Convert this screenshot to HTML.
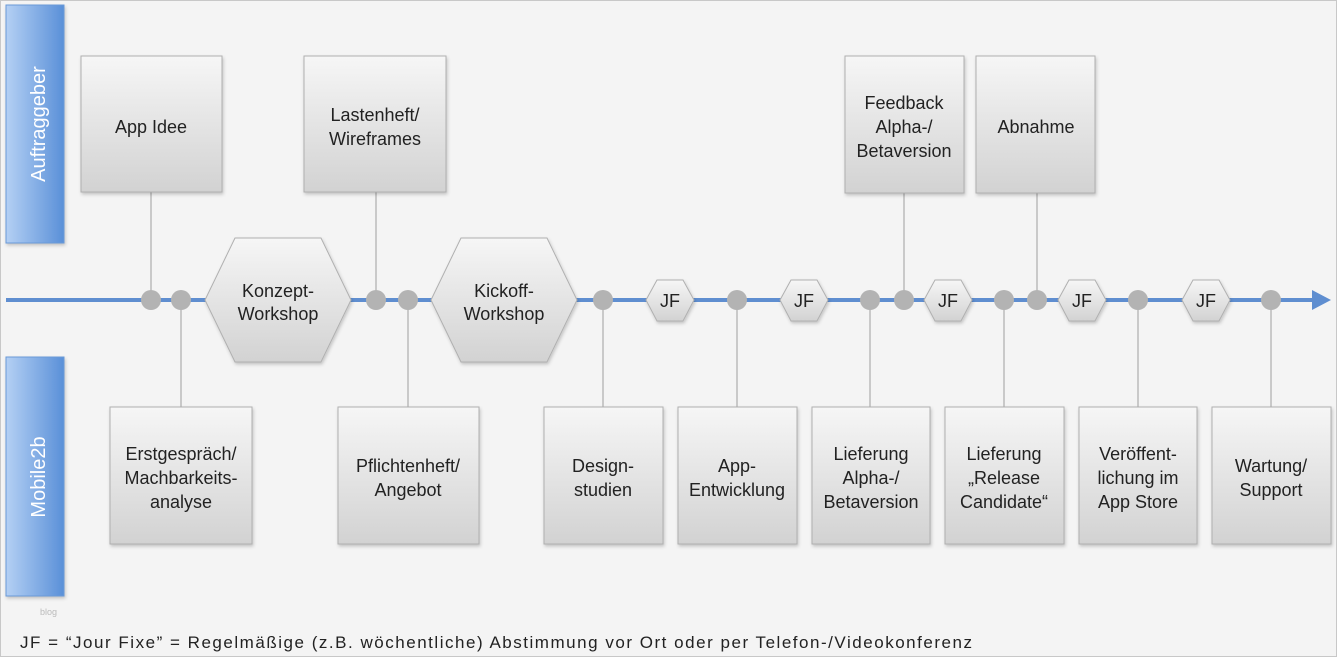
<!DOCTYPE html>
<html><head><meta charset="utf-8"><style>
html,body{margin:0;padding:0;background:#f4f4f4}
svg{display:block}
text{font-family:"Liberation Sans",sans-serif;fill:#222}
</style></head><body>
<svg width="1337" height="657" viewBox="0 0 1337 657" xmlns="http://www.w3.org/2000/svg">
<defs>
<linearGradient id="box" x1="0" y1="0" x2="0" y2="1"><stop offset="0" stop-color="#f6f6f6"/><stop offset="1" stop-color="#d2d2d2"/></linearGradient>
<linearGradient id="lane" x1="0" y1="0" x2="1" y2="0"><stop offset="0" stop-color="#b4d0f4"/><stop offset="1" stop-color="#5a90d8"/></linearGradient>
<filter id="sh" x="-10%" y="-10%" width="130%" height="130%"><feDropShadow dx="1" dy="2" stdDeviation="1.5" flood-color="#000" flood-opacity="0.2"/></filter>
</defs>
<rect x="0.5" y="0.5" width="1336" height="656" fill="#f4f4f4" stroke="#c8c8c8"/>
<rect x="6" y="5" width="58" height="238" fill="url(#lane)" stroke="#6a9ad8" filter="url(#sh)"/>
<rect x="6" y="357" width="58" height="239" fill="url(#lane)" stroke="#6a9ad8" filter="url(#sh)"/>
<text transform="translate(45,124) rotate(-90)" text-anchor="middle" font-size="20" style="fill:#fff">Auftraggeber</text>
<text transform="translate(45,477) rotate(-90)" text-anchor="middle" font-size="20" style="fill:#fff">Mobile2b</text>
<text x="40" y="615" font-size="9" style="fill:#bbb">blog</text>
<g stroke="#bbb" stroke-width="1.5">
<line x1="151" y1="192" x2="151" y2="300"/><line x1="181" y1="300" x2="181" y2="407"/>
<line x1="376" y1="192" x2="376" y2="300"/><line x1="408" y1="300" x2="408" y2="407"/>
<line x1="603" y1="300" x2="603" y2="407"/><line x1="737" y1="300" x2="737" y2="407"/>
<line x1="870" y1="300" x2="870" y2="407"/><line x1="904" y1="193" x2="904" y2="300"/>
<line x1="1004" y1="300" x2="1004" y2="407"/><line x1="1037" y1="193" x2="1037" y2="300"/>
<line x1="1138" y1="300" x2="1138" y2="407"/><line x1="1271" y1="300" x2="1271" y2="407"/>
</g>
<line x1="6" y1="300" x2="1316" y2="300" stroke="#5f8ed0" stroke-width="4"/>
<polygon points="1312,290 1331,300 1312,310" fill="#5f8ed0"/>
<g fill="#b3b3b3">
<circle cx="151" cy="300" r="10"/><circle cx="181" cy="300" r="10"/><circle cx="376" cy="300" r="10"/><circle cx="408" cy="300" r="10"/>
<circle cx="603" cy="300" r="10"/><circle cx="737" cy="300" r="10"/><circle cx="870" cy="300" r="10"/><circle cx="904" cy="300" r="10"/>
<circle cx="1004" cy="300" r="10"/><circle cx="1037" cy="300" r="10"/><circle cx="1138" cy="300" r="10"/><circle cx="1271" cy="300" r="10"/>
</g>
<g fill="url(#box)" stroke="#b0b0b0" filter="url(#sh)">
<rect x="81" y="56" width="141" height="136"/><rect x="304" y="56" width="142" height="136"/>
<rect x="845" y="56" width="119" height="137"/><rect x="976" y="56" width="119" height="137"/>
<rect x="110" y="407" width="142" height="137"/><rect x="338" y="407" width="141" height="137"/>
<rect x="544" y="407" width="119" height="137"/><rect x="678" y="407" width="119" height="137"/>
<rect x="812" y="407" width="118" height="137"/><rect x="945" y="407" width="119" height="137"/>
<rect x="1079" y="407" width="118" height="137"/><rect x="1212" y="407" width="119" height="137"/>
<polygon points="235,238 321,238 351,300 321,362 235,362 205,300"/>
<polygon points="461,238 547,238 577,300 547,362 461,362 431,300"/>
<polygon points="657,280 683,280 694,300 683,321 657,321 646,300"/>
<polygon points="791,280 817,280 828,300 817,321 791,321 780,300"/>
<polygon points="935,280 961,280 972,300 961,321 935,321 924,300"/>
<polygon points="1069,280 1095,280 1106,300 1095,321 1069,321 1058,300"/>
<polygon points="1193,280 1219,280 1230,300 1219,321 1193,321 1182,300"/>
</g>
<g font-size="18" text-anchor="middle">
<text x="151" y="133">App Idee</text>
<text x="375" y="121">Lastenheft/</text><text x="375" y="145">Wireframes</text>
<text x="904" y="109">Feedback</text><text x="904" y="133">Alpha-/</text><text x="904" y="157">Betaversion</text>
<text x="1036" y="133">Abnahme</text>
<text x="278" y="297">Konzept-</text><text x="278" y="320">Workshop</text>
<text x="504" y="297">Kickoff-</text><text x="504" y="320">Workshop</text>
<text x="670" y="307">JF</text><text x="804" y="307">JF</text><text x="948" y="307">JF</text><text x="1082" y="307">JF</text><text x="1206" y="307">JF</text>
<text x="181" y="460">Erstgespräch/</text><text x="181" y="484">Machbarkeits-</text><text x="181" y="508">analyse</text>
<text x="408" y="472">Pflichtenheft/</text><text x="408" y="496">Angebot</text>
<text x="603" y="472">Design-</text><text x="603" y="496">studien</text>
<text x="737" y="472">App-</text><text x="737" y="496">Entwicklung</text>
<text x="871" y="460">Lieferung</text><text x="871" y="484">Alpha-/</text><text x="871" y="508">Betaversion</text>
<text x="1004" y="460">Lieferung</text><text x="1004" y="484">„Release</text><text x="1004" y="508">Candidate“</text>
<text x="1138" y="460">Veröffent-</text><text x="1138" y="484">lichung im</text><text x="1138" y="508">App Store</text>
<text x="1271" y="472">Wartung/</text><text x="1271" y="496">Support</text>
</g>
<text x="20" y="648" font-size="17" textLength="952" lengthAdjust="spacing">JF = “Jour Fixe” = Regelmäßige (z.B. wöchentliche) Abstimmung vor Ort oder per Telefon-/Videokonferenz</text>
</svg>
</body></html>
